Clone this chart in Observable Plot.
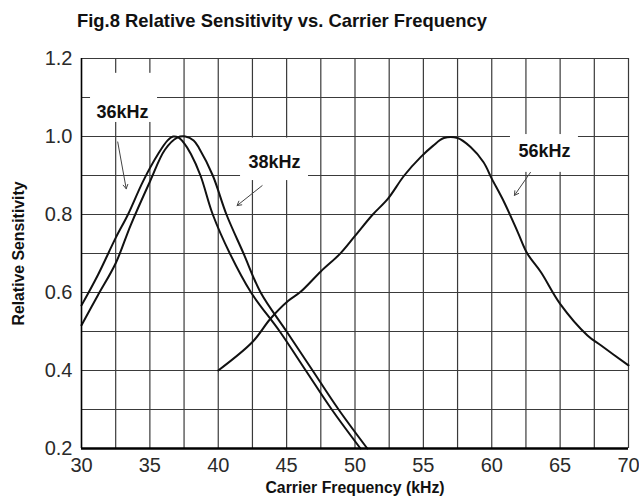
<!DOCTYPE html>
<html><head><meta charset="utf-8">
<script src="https://cdn.jsdelivr.net/npm/d3@7"></script>
<script src="https://cdn.jsdelivr.net/npm/@observablehq/plot@0.6"></script>
<style>
body{margin:0;background:#fff;font-family:Arial,"Liberation Sans",sans-serif;}
#title{height:40px;line-height:42px;font-weight:bold;font-size:18.4px;padding-left:77px;color:#111;white-space:nowrap;}
</style></head><body>
<div id="title">Fig.8 Relative Sensitivity vs. Carrier Frequency</div>
<div id="chart"></div>
<script>
// 36kHz curve
const freq36 = [30, 31.2, 32.5, 33.4, 34.5, 35.6, 36.3, 36.7, 37.1, 37.5, 38.0, 38.7, 39.6, 40.85, 42.4, 44.5, 46.4, 48.3, 50.4];
const sens36 = [0.567, 0.645, 0.74, 0.80, 0.885, 0.955, 0.99, 1.0, 0.997, 0.983, 0.955, 0.90, 0.80, 0.70, 0.60, 0.50, 0.40, 0.30, 0.20];
// 38kHz curve
const freq38 = [30, 31.2, 32.5, 33.6, 35.0, 36.1, 37.0, 37.6, 38.2, 38.6, 39.6, 40.6, 41.85, 43.1, 45.0, 46.9, 48.8, 50.9];
const sens38 = [0.516, 0.593, 0.675, 0.773, 0.884, 0.966, 0.997, 1.0, 0.99, 0.97, 0.90, 0.80, 0.70, 0.60, 0.50, 0.40, 0.30, 0.20];
// 56kHz curve
const freq56 = [40, 42.5, 43.8, 45.1, 46.0, 47.5, 48.9, 50.0, 51.3, 52.4, 53.6, 54.8, 55.7, 56.5, 57.5, 58.45, 59.4, 60.0, 60.9, 61.9, 62.6, 63.6, 65.0, 67.0, 68.0, 70.0];
const sens56 = [0.40, 0.473, 0.532, 0.578, 0.601, 0.654, 0.699, 0.745, 0.80, 0.84, 0.90, 0.947, 0.976, 0.996, 0.996, 0.973, 0.934, 0.892, 0.832, 0.755, 0.70, 0.652, 0.571, 0.49, 0.464, 0.413];

const xTicks = [30, 35, 40, 45, 50, 55, 60, 65, 70];
const yTicks = [0.2, 0.4, 0.6, 0.8, 1.0, 1.2];
const xGrid = [30, 32.5, 35, 37.5, 40, 42.5, 45, 47.5, 50, 52.5, 55, 57.5, 60, 62.5, 65, 67.5, 70];
const yGrid = [0.2, 0.3, 0.4, 0.5, 0.6, 0.7, 0.8, 0.9, 1.0, 1.1, 1.2];

// annotation labels (data coordinates)
const labelNames = ["36kHz", "38kHz", "56kHz"];
const labelX = [33.0, 44.11, 63.86];
const labelY = [1.062, 0.935, 0.962];
const boxX1 = [30.66, 41.63, 61.37];
const boxX2 = [35.56, 46.6, 66.34];
const boxY1 = [1.036, 0.887, 0.908];
const boxY2 = [1.162, 0.996, 1.005];
const arrowX1 = [32.65, 43.21, 62.83];
const arrowY1 = [0.986, 0.874, 0.908];
const arrowX2 = [33.27, 41.38, 61.66];
const arrowY2 = [0.866, 0.823, 0.849];

const toPts = (xs, ys, s) => xs.map((x, i) => ({x, y: ys[i], s}));
const curves = [...toPts(freq36, sens36, "36"), ...toPts(freq38, sens38, "38"), ...toPts(freq56, sens56, "56")];
const labels = labelNames.map((t, i) => ({t, x: labelX[i], y: labelY[i], bx1: boxX1[i], bx2: boxX2[i], by1: boxY1[i], by2: boxY2[i], ax1: arrowX1[i], ay1: arrowY1[i], ax2: arrowX2[i], ay2: arrowY2[i]}));

const plot = Plot.plot({
  width: 639,
  height: 463,
  marginTop: 18,
  marginBottom: 55,
  marginLeft: 81,
  marginRight: 11,
  style: {fontFamily: "Arial, 'Liberation Sans', sans-serif", fontSize: "20px", color: "#2a2a2a", background: "#fff"},
  x: {domain: [30, 70]},
  y: {domain: [0.2, 1.2]},
  marks: [
    Plot.gridX(xGrid, {stroke: "#3a3a3a", strokeOpacity: 1, strokeWidth: 1.2}),
    Plot.gridY(yGrid, {stroke: "#3a3a3a", strokeOpacity: 1, strokeWidth: 1.2}),
    Plot.rect(labels, {x1: "bx1", x2: "bx2", y1: "by1", y2: "by2", fill: "white"}),
    Plot.line(curves, {x: "x", y: "y", z: "s", stroke: "#111", strokeWidth: 2, curve: "catmull-rom"}),
    Plot.ruleY([0.2], {stroke: "#000", strokeWidth: 2.5}),
    Plot.ruleX([30], {stroke: "#000", strokeWidth: 1.5}),
    Plot.axisX(xTicks, {tickSize: 0, tickPadding: 9, label: null, fontSize: 20}),
    Plot.axisY(yTicks, {tickSize: 0, tickPadding: 9, label: null, fontSize: 20, tickFormat: d => d.toFixed(1)}),
    Plot.text(labels, {x: "x", y: "y", text: "t", fontWeight: "bold", fontSize: 18, fill: "#111"}),
    Plot.arrow(labels, {x1: "ax1", y1: "ay1", x2: "ax2", y2: "ay2", stroke: "#444", strokeWidth: 1, headLength: 7}),
    Plot.text(["Carrier Frequency (kHz)"], {frameAnchor: "bottom", dy: 44, fontWeight: "bold", fontSize: 15.8, fill: "#111"}),
    Plot.text(["Relative Sensitivity"], {frameAnchor: "left", textAnchor: "middle", dx: -63, rotate: -90, fontWeight: "bold", fontSize: 15.8, fill: "#111"})
  ]
});
document.getElementById("chart").appendChild(plot);
</script>
</body></html>
